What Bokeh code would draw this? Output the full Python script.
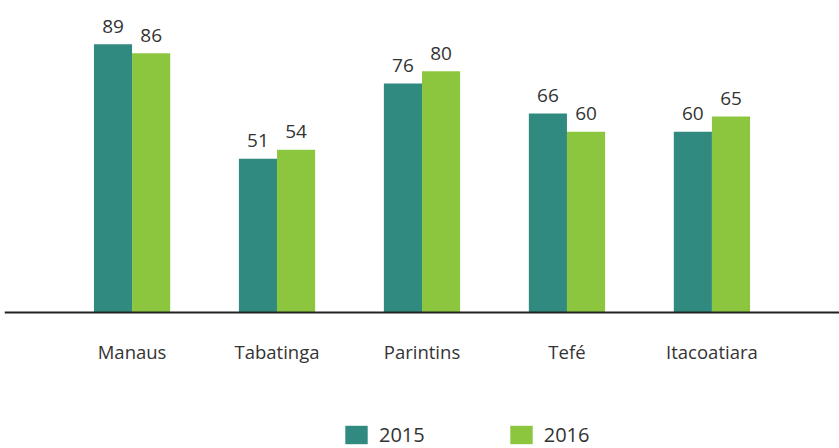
from bokeh.plotting import figure
from bokeh.models import ColumnDataSource, Range1d, FactorRange, Span
from bokeh.transform import dodge
from bokeh.core.properties import value
from bokeh.embed import file_html
from bokeh.resources import INLINE

cities = ["Manaus", "Tabatinga", "Parintins", "Tefé", "Itacoatiara"]
years = ["2015", "2016"]
v2015 = [89, 51, 76, 66, 60]
v2016 = [86, 54, 80, 60, 65]

C15 = "#308a80"
C16 = "#8cc63f"
TXT = "#333333"
FONT = "Open Sans"

src = ColumnDataSource(dict(city=cities, v2015=v2015, v2016=v2016,
                            l2015=[str(v) for v in v2015],
                            l2016=[str(v) for v in v2016],
                            zero=[0] * len(cities)))

xr = FactorRange(factors=cities, range_padding=0.38, range_padding_units="absolute")
p = figure(x_range=xr, y_range=Range1d(-45.1, 103.5), width=839, height=448,
           output_backend="svg", toolbar_location=None,
           min_border=0, min_border_left=4, min_border_right=0,
           min_border_top=0, min_border_bottom=0)
p.outline_line_color = None
p.xgrid.visible = False
p.ygrid.visible = False
p.xaxis.visible = False
p.yaxis.visible = False
p.background_fill_color = "white"
p.border_fill_color = "white"

bw = 0.263
p.vbar(x=dodge("city", -bw / 2, range=xr), top="v2015", width=bw, source=src,
       fill_color=C15, line_color=None, legend_label="2015")
p.vbar(x=dodge("city", bw / 2, range=xr), top="v2016", width=bw, source=src,
       fill_color=C16, line_color=None, legend_label="2016")

p.text(x=dodge("city", -bw / 2, range=xr), y="v2015", text="l2015", source=src,
       text_align="center", text_baseline="alphabetic", y_offset=-18,
       text_font=value(FONT), text_font_size="19px", text_color=TXT)
p.text(x=dodge("city", bw / 2, range=xr), y="v2016", text="l2016", source=src,
       text_align="center", text_baseline="alphabetic", y_offset=-18,
       text_font=value(FONT), text_font_size="19px", text_color=TXT)

p.text(x="city", y="zero", text="city", source=src,
       text_align="center", text_baseline="alphabetic", y_offset=39,
       text_font=value(FONT), text_font_size="18.5px", text_color=TXT)

p.add_layout(Span(location=0, dimension="width", line_color="#222222", line_width=2))

lg = p.legend[0]
lg.orientation = "horizontal"
lg.location = (338, 0)
lg.border_line_color = None
lg.background_fill_alpha = 0
lg.padding = 0
lg.margin = 0
lg.spacing = 82
lg.glyph_width = 28
lg.glyph_height = 23
lg.label_height = 23
lg.label_standoff = 9
lg.label_text_font = FONT
lg.label_text_font_size = "20px"
lg.label_text_color = TXT

open("out.html", "w").write(file_html(p, INLINE))
